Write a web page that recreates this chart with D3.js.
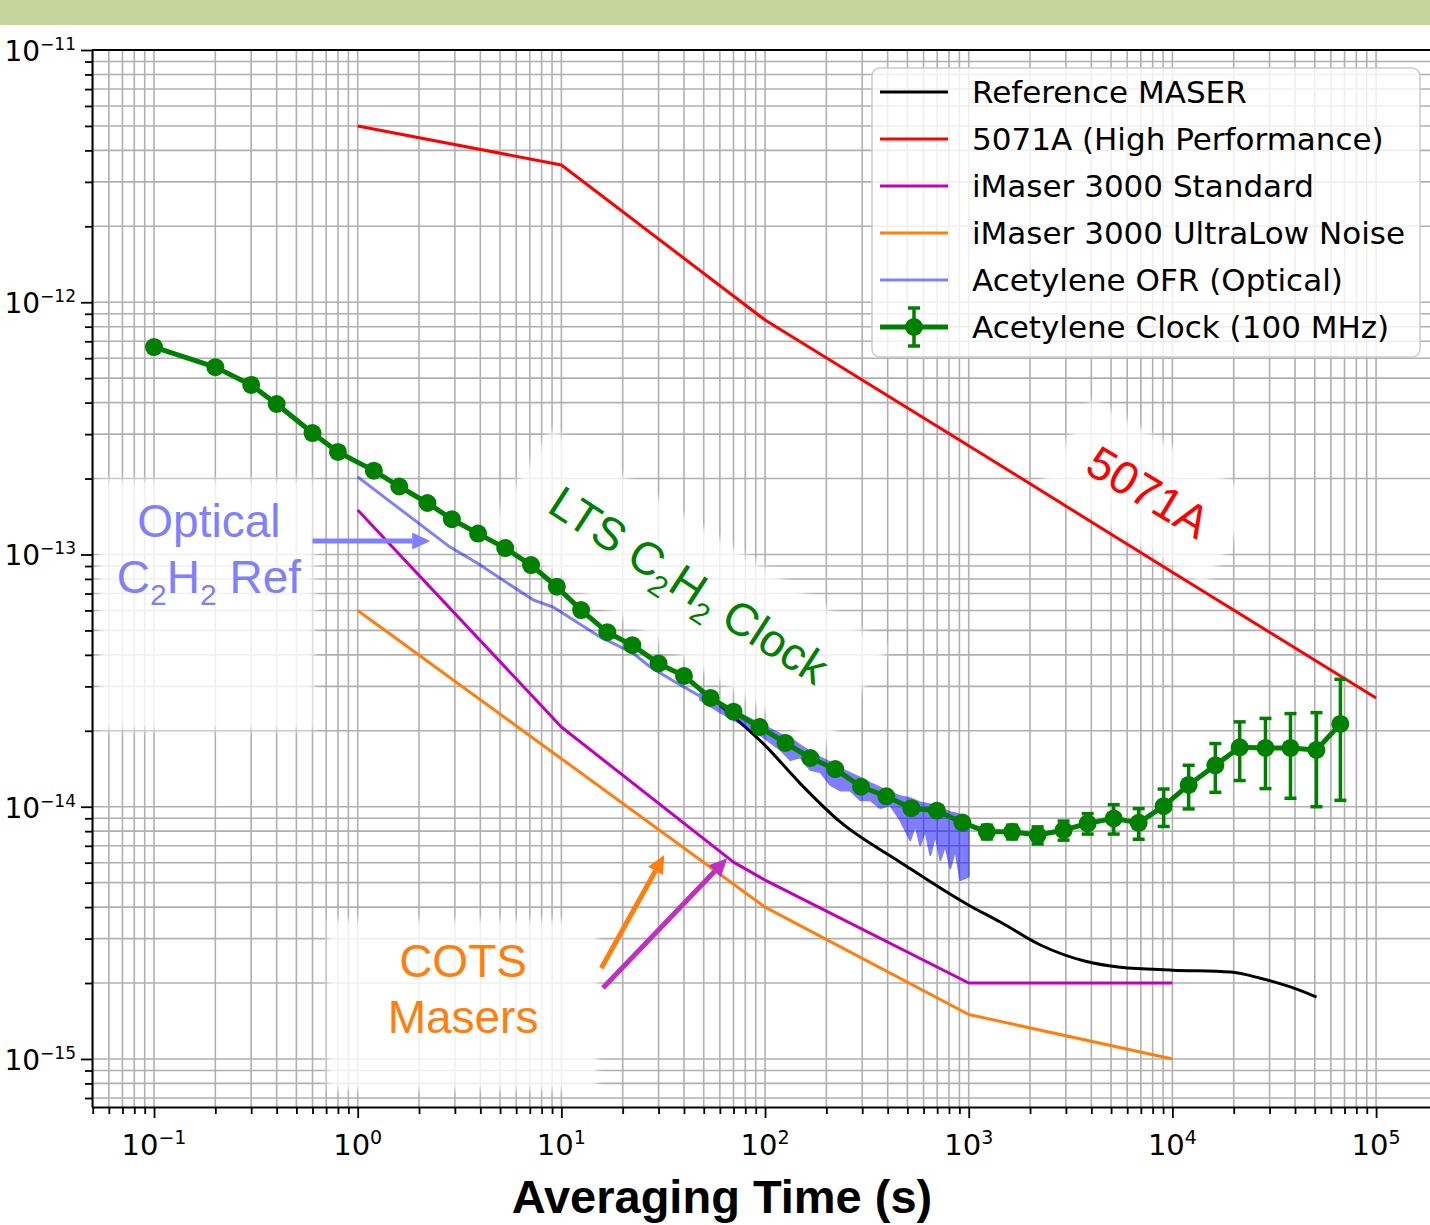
<!DOCTYPE html>
<html lang="en">
<head>
<meta charset="UTF-8">
<title>Allan Deviation - Acetylene Clock vs Commercial Standards</title>
<script src="https://d3js.org/d3.v7.min.js"></script>
<style>
  body { margin: 0; background: #ffffff; }
  svg { display: block; font-family: "DejaVu Sans", sans-serif; }
  .grid line { stroke: #b0b0b0; stroke-width: 1.6; }
  .axis path { stroke: #000; stroke-width: 2; }
  .axis line { stroke: #000; stroke-width: 1.8; }
  .tick-label { font-size: 29px; fill: #000; }
  .ytick-label { font-size: 28px; fill: #000; }
  .note { font-family: "Liberation Sans", Arial, sans-serif; font-size: 46px; }
  .legend-text { font-size: 31px; fill: #000; }
</style>
</head>
<body>
<svg width="1430" height="1225"></svg>
<script>
// ---------- data ----------
const maserTau = [60, 100, 149, 234, 461, 1000, 1429, 2249, 3740, 5554, 10000, 19270, 27040, 37970, 51000];
const maserDev = [2.53e-14, 1.75e-14, 1.235e-14, 8.7e-15, 6.03e-15, 4.07e-15, 3.49e-15, 2.83e-15, 2.44e-15, 2.31e-15, 2.25e-15, 2.21e-15, 2.09e-15, 1.93e-15, 1.76e-15];

const csTau = [1, 10, 100, 1000, 10000, 100000];
const csDev = [5.0e-12, 3.5e-12, 8.5e-13, 2.7e-13, 8.5e-14, 2.7e-14];

const imStdTau = [1, 10, 70, 100, 1000, 10000];
const imStdDev = [1.5e-13, 2.07e-14, 6.03e-15, 5.12e-15, 2.0e-15, 2.0e-15];

const imUlnTau = [1, 10, 100, 1000, 10000];
const imUlnDev = [6.0e-14, 1.55e-14, 4.0e-15, 1.5e-15, 1.0e-15];

// optical reference: smooth part, then the noisy tail as an envelope
const ofrTau = [1, 1.62, 2.84, 3.86, 7.27, 9.11, 15.5, 22.5, 27.3, 36.2, 48];
const ofrDev = [2.03e-13, 1.51e-13, 1.07e-13, 9.25e-14, 6.60e-14, 6.19e-14, 4.71e-14, 4.06e-14, 3.58e-14, 3.12e-14, 2.74e-14];
const ofrNoiseTau = [48, 60, 76, 95, 119, 133, 149, 167, 187, 209, 234, 262, 294, 329, 368, 412, 461, 516, 547, 578, 612, 648, 685, 726, 767, 812, 859, 910, 962, 1000];
const ofrNoiseHi = [2.82e-14, 2.58e-14, 2.33e-14, 2.13e-14, 1.94e-14, 1.87e-14, 1.75e-14, 1.65e-14, 1.57e-14, 1.50e-14, 1.42e-14, 1.36e-14, 1.30e-14, 1.24e-14, 1.19e-14, 1.14e-14, 1.10e-14, 1.08e-14, 1.06e-14, 1.04e-14, 1.03e-14, 1.02e-14, 1.01e-14, 9.87e-15, 9.69e-15, 9.52e-15, 9.43e-15, 9.26e-15, 9.01e-15, 8.9e-15];
const ofrNoiseLo = [2.65e-14, 2.37e-14, 2.13e-14, 1.92e-14, 1.68e-14, 1.53e-14, 1.57e-14, 1.40e-14, 1.37e-14, 1.22e-14, 1.16e-14, 1.16e-14, 1.06e-14, 1.06e-14, 9.87e-15, 1.015e-14, 8.85e-15, 7.37e-15, 8.45e-15, 7.04e-15, 8.07e-15, 6.43e-15, 7.72e-15, 6.14e-15, 7.04e-15, 5.71e-15, 6.73e-15, 5.12e-15, 5.21e-15, 5.3e-15];

const clockTau = [0.1, 0.2, 0.3, 0.4, 0.6, 0.8, 1.2, 1.6, 2.2, 2.9, 3.9, 5.3, 7.1, 9.5, 12.5, 16.8, 22.3, 30, 40, 54, 70, 94, 126, 167, 221, 296, 394, 523, 698, 931, 1228, 1633, 2180, 2923, 3837, 5150, 6830, 9060, 12020, 16250, 21400, 28640, 38000, 50970, 66800];
const clockDev = [6.64e-13, 5.53e-13, 4.70e-13, 3.95e-13, 3.03e-13, 2.55e-13, 2.15e-13, 1.86e-13, 1.60e-13, 1.38e-13, 1.21e-13, 1.06e-13, 9.08e-14, 7.45e-14, 6.02e-14, 4.92e-14, 4.37e-14, 3.70e-14, 3.30e-14, 2.70e-14, 2.38e-14, 2.07e-14, 1.79e-14, 1.56e-14, 1.41e-14, 1.20e-14, 1.10e-14, 9.87e-15, 9.64e-15, 8.65e-15, 7.95e-15, 7.95e-15, 7.72e-15, 8.07e-15, 8.59e-15, 8.99e-15, 8.63e-15, 1.005e-14, 1.22e-14, 1.46e-14, 1.72e-14, 1.71e-14, 1.71e-14, 1.68e-14, 2.13e-14];
const clockErr = [0, 0, 0, 0, 0, 0, 0, 0, 0, 0, 0, 0, 0, 0, 0, 0, 0, 0, 0, 0, 0, 0, 0, 0, 0, 0, 0, 0, 0, 3e-16, 5e-16, 5e-16, 6e-16, 7e-16, 8e-16, 1.2e-15, 1.2e-15, 1.7e-15, 2.4e-15, 3.2e-15, 4.5e-15, 5.3e-15, 6.3e-15, 6.8e-15, 1.07e-14];

const legendLabels = ["Reference MASER", "5071A (High Performance)", "iMaser 3000 Standard", "iMaser 3000 UltraLow Noise", "Acetylene OFR (Optical)", "Acetylene Clock (100 MHz)"];
const seriesColors = ["#000000", "#ff0000", "#bf00bf", "#ff7f0e", "#8080ff", "#008000"];

const xTickValues = [1e-1, 1e0, 1e1, 1e2, 1e3, 1e4, 1e5];
const yTickValues = [1e-11, 1e-12, 1e-13, 1e-14, 1e-15];

// text annotations ("_2" marks a subscript)
const noteText = [["Optical", "C_2H_2 Ref"], ["COTS", "Masers"], ["LTS C_2H_2 Clock"], ["5071A"]];
const noteTau = [0.186, 3.29, 42.4, 7620];
const noteDev = [1.055e-13, 1.90e-15, 7.56e-14, 1.77e-13];
const noteAngle = [0, 0, 33, 31];
const noteColor = ["#8080ff", "#ff7f0e", "#008000", "#ff0000"];
const notePad = [[15, 13, 119, 18], [15, 59, 47, 60], [30, 40, 30, 40], [25, 30, 25, 30]]; // top right bottom left

const arrowFrom = [[0.6, 1.13e-13], [15.7, 2.29e-15], [16.0, 1.91e-15]];
const arrowTo = [[2.27, 1.13e-13], [32, 6.43e-15], [65.2, 6.25e-15]];
const arrowColor = ["#8080ff", "#ff7f0e", "#c030c0"];

// ---------- layout ----------
const width = 1430, height = 1225;
const plot = { left: 92, right: 1440, top: 50, bottom: 1107 };

const svg = d3.select("svg").attr("width", width).attr("height", height);

const defs = svg.append("defs");
defs.append("clipPath").attr("id", "plot-clip")
    .append("rect")
    .attr("x", plot.left).attr("y", plot.top)
    .attr("width", plot.right - plot.left).attr("height", plot.bottom - plot.top);
defs.append("filter").attr("id", "soft")
    .append("feGaussianBlur").attr("stdDeviation", 3);

// slide header band
svg.append("rect")
    .attr("x", 0).attr("y", 0).attr("width", width).attr("height", 25)
    .attr("fill", "#c4d69b");

const x = d3.scaleLog().domain([0.0496, 2.06e5]).range([plot.left, plot.right]);
const y = d3.scaleLog().domain([1e-11, 6.45e-16]).range([plot.top, plot.bottom]);

const isDecade = v => Math.abs(Math.log10(v) - Math.round(Math.log10(v))) < 1e-6;

// grid (major + minor)
const grid = svg.append("g").attr("class", "grid");
grid.selectAll(".gx").data(x.ticks()).join("line")
    .attr("x1", d => x(d)).attr("x2", d => x(d))
    .attr("y1", plot.top).attr("y2", plot.bottom);
grid.selectAll(".gy").data(y.ticks()).join("line")
    .attr("x1", plot.left).attr("x2", plot.right)
    .attr("y1", d => y(d)).attr("y2", d => y(d));

// annotation boxes + text (under the data)
function addRich(textSel, str) {
    let shift = 0;
    str.split(/(_\d)/).filter(s => s).forEach(part => {
        const sub = part[0] === "_";
        const ts = textSel.append("tspan").text(sub ? part.slice(1) : part);
        const target = sub ? 12 : 0;
        if (target !== shift) ts.attr("dy", target - shift);
        if (sub) ts.attr("font-size", 30);
        shift = target;
    });
}

const notesLayer = svg.append("g");
noteText.forEach((lines, i) => {
    const g = notesLayer.append("g")
        .attr("transform", `translate(${x(noteTau[i])},${y(noteDev[i])}) rotate(${noteAngle[i]})`);
    lines.forEach((ln, j) => {
        const t = g.append("text")
            .attr("class", "note")
            .attr("x", 0)
            .attr("y", (j - (lines.length - 1) / 2) * 56)
            .attr("dy", "0.35em")
            .attr("text-anchor", "middle")
            .attr("fill", noteColor[i]);
        addRich(t, ln);
    });
    const bb = g.node().getBBox();
    const p = notePad[i];
    g.insert("rect", ":first-child")
        .attr("x", bb.x - p[3]).attr("y", bb.y - p[0])
        .attr("width", bb.width + p[1] + p[3]).attr("height", bb.height + p[0] + p[2])
        .attr("fill", "#ffffff").attr("opacity", 0.82)
        .attr("filter", "url(#soft)");
});

// axes
const xMinor = x.ticks().filter(d => !isDecade(d));
const yMinor = y.ticks().filter(d => !isDecade(d));

svg.append("g").attr("class", "axis")
    .attr("transform", `translate(0,${plot.bottom})`)
    .call(d3.axisBottom(x).tickValues(xTickValues).tickSize(11).tickSizeOuter(0).tickFormat(() => ""));
svg.append("g").attr("class", "axis")
    .attr("transform", `translate(0,${plot.bottom})`)
    .call(d3.axisBottom(x).tickValues(xMinor).tickSize(7).tickSizeOuter(0).tickFormat(() => ""))
    .select(".domain").remove();
svg.append("g").attr("class", "axis")
    .attr("transform", `translate(${plot.left},0)`)
    .call(d3.axisLeft(y).tickValues(yTickValues).tickSize(11).tickSizeOuter(0).tickFormat(() => ""));
svg.append("g").attr("class", "axis")
    .attr("transform", `translate(${plot.left},0)`)
    .call(d3.axisLeft(y).tickValues(yMinor).tickSize(7).tickSizeOuter(0).tickFormat(() => ""))
    .select(".domain").remove();
svg.append("line")
    .attr("x1", plot.left).attr("x2", plot.right)
    .attr("y1", plot.top).attr("y2", plot.top)
    .attr("stroke", "#000").attr("stroke-width", 2);

function powLabel(sel, exp, supSize) {
    sel.append("tspan").text("10");
    sel.append("tspan").attr("dy", -11).attr("font-size", supSize)
        .text(exp < 0 ? "\u2212" + (-exp) : String(exp));
}

svg.append("g").selectAll("text").data(xTickValues).join("text")
    .attr("class", "tick-label")
    .attr("x", d => x(d)).attr("y", plot.bottom + 48)
    .attr("text-anchor", "middle")
    .each(function (d) { powLabel(d3.select(this), Math.round(Math.log10(d)), 19); });

svg.append("g").selectAll("text").data(yTickValues).join("text")
    .attr("class", "ytick-label")
    .attr("x", plot.left - 16).attr("y", d => y(d) + 11)
    .attr("text-anchor", "end")
    .each(function (d) { powLabel(d3.select(this), Math.round(Math.log10(d)), 17); });

svg.append("text")
    .attr("x", 722).attr("y", 1213)
    .attr("text-anchor", "middle")
    .style("font-family", "'Liberation Sans', Arial, sans-serif")
    .style("font-weight", "bold")
    .style("font-size", "47px")
    .text("Averaging Time (s)");

// data series
const zip = (a, b) => a.map((t, i) => [t, b[i]]);
const line = d3.line().x(d => x(d[0])).y(d => y(d[1]));
const data = svg.append("g").attr("clip-path", "url(#plot-clip)");

data.append("path").datum(zip(maserTau, maserDev))
    .attr("d", line.curve(d3.curveMonotoneX))
    .attr("fill", "none").attr("stroke", seriesColors[0]).attr("stroke-width", 3);
line.curve(d3.curveLinear);

[[csTau, csDev, 1], [imStdTau, imStdDev, 2], [imUlnTau, imUlnDev, 3]].forEach(([t, v, c]) => {
    data.append("path").datum(zip(t, v))
        .attr("d", line)
        .attr("fill", "none").attr("stroke", seriesColors[c]).attr("stroke-width", 3)
        .attr("stroke-linejoin", "round");
});

// optical reference (blue at half alpha)
const ofr = data.append("g").attr("opacity", 0.5);
ofr.append("path").datum(zip(ofrTau, ofrDev))
    .attr("d", line)
    .attr("fill", "none").attr("stroke", "#0000ff").attr("stroke-width", 3);
const noise = ofrNoiseTau.map((t, i) => ({ t, hi: ofrNoiseHi[i], lo: ofrNoiseLo[i] }));
ofr.append("path").datum(noise)
    .attr("d", d3.area().x(d => x(d.t)).y0(d => y(d.lo)).y1(d => y(d.hi)))
    .attr("fill", "#0000ff").attr("stroke", "#0000ff").attr("stroke-width", 2)
    .attr("stroke-linejoin", "round");

// acetylene clock with error bars
const clock = clockTau.map((t, i) => ({ t, v: clockDev[i], e: clockErr[i] }));
const green = seriesColors[5];
data.append("path").datum(clock.map(d => [d.t, d.v]))
    .attr("d", line)
    .attr("fill", "none").attr("stroke", green).attr("stroke-width", 5)
    .attr("stroke-linejoin", "round");
const eb = data.append("g").attr("stroke", green).attr("stroke-width", 3.5)
    .selectAll("g").data(clock.filter(d => d.e > 0)).join("g");
eb.append("line")
    .attr("x1", d => x(d.t)).attr("x2", d => x(d.t))
    .attr("y1", d => y(d.v + d.e)).attr("y2", d => y(d.v - d.e));
eb.append("line")
    .attr("x1", d => x(d.t) - 6).attr("x2", d => x(d.t) + 6)
    .attr("y1", d => y(d.v + d.e)).attr("y2", d => y(d.v + d.e));
eb.append("line")
    .attr("x1", d => x(d.t) - 6).attr("x2", d => x(d.t) + 6)
    .attr("y1", d => y(d.v - d.e)).attr("y2", d => y(d.v - d.e));
data.append("g").selectAll("circle").data(clock).join("circle")
    .attr("cx", d => x(d.t)).attr("cy", d => y(d.v)).attr("r", 9)
    .attr("fill", green);

// arrows
const arrows = svg.append("g");
arrowFrom.forEach((s, i) => {
    const x0 = x(s[0]), y0 = y(s[1]);
    const x1 = x(arrowTo[i][0]), y1 = y(arrowTo[i][1]);
    const a = Math.atan2(y1 - y0, x1 - x0);
    const head = 18, half = 8.5;
    const bx = x1 - head * Math.cos(a), by = y1 - head * Math.sin(a);
    arrows.append("line")
        .attr("x1", x0).attr("y1", y0).attr("x2", bx).attr("y2", by)
        .attr("stroke", arrowColor[i]).attr("stroke-width", 5);
    const px = -Math.sin(a) * half, py = Math.cos(a) * half;
    arrows.append("polygon")
        .attr("points", `${x1},${y1} ${bx + px},${by + py} ${bx - px},${by - py}`)
        .attr("fill", arrowColor[i]);
});

// legend
const lg = svg.append("g").attr("transform", "translate(872,68)");
lg.append("rect")
    .attr("width", 548).attr("height", 289).attr("rx", 8)
    .attr("fill", "#ffffff").attr("fill-opacity", 0.8)
    .attr("stroke", "#cccccc").attr("stroke-width", 1.5);
legendLabels.forEach((label, i) => {
    const cy = 24 + i * 47;
    const isClock = i === 5;
    lg.append("line")
        .attr("x1", 8).attr("x2", 76).attr("y1", cy).attr("y2", cy)
        .attr("stroke", seriesColors[i]).attr("stroke-width", isClock ? 5 : 3);
    if (isClock) {
        lg.append("line").attr("x1", 42).attr("x2", 42).attr("y1", cy - 19).attr("y2", cy + 19)
            .attr("stroke", green).attr("stroke-width", 3.5);
        [-19, 19].forEach(o => lg.append("line")
            .attr("x1", 36).attr("x2", 48).attr("y1", cy + o).attr("y2", cy + o)
            .attr("stroke", green).attr("stroke-width", 3.5));
        lg.append("circle").attr("cx", 42).attr("cy", cy).attr("r", 9).attr("fill", green);
    }
    lg.append("text")
        .attr("class", "legend-text")
        .attr("x", 100).attr("y", cy + 11)
        .text(label);
});
</script>
</body>
</html>
